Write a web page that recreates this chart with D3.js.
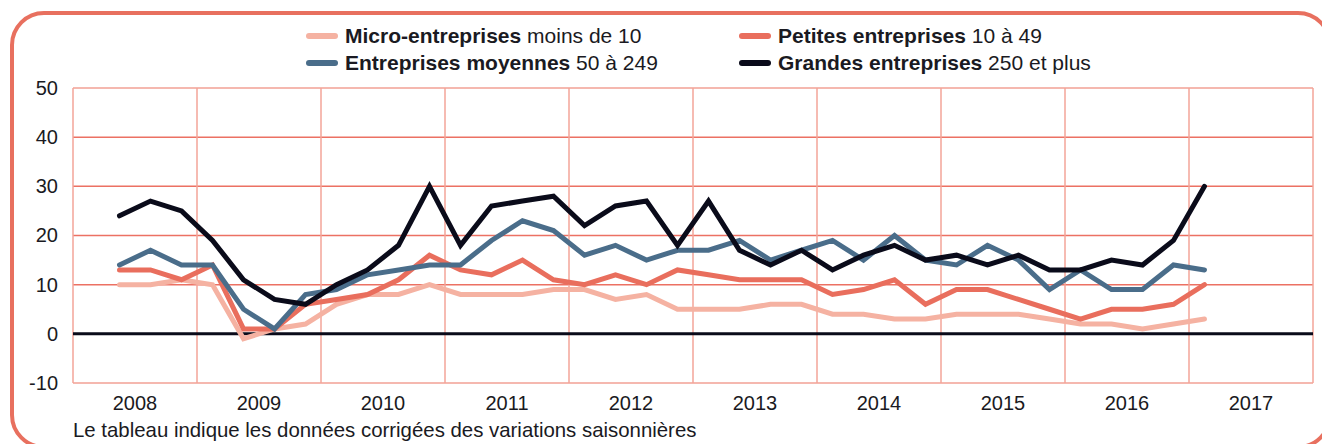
<!DOCTYPE html>
<html>
<head>
<meta charset="utf-8">
<script src="https://cdn.jsdelivr.net/npm/d3@7"></script>
<style>
  body { margin: 0; background: #fff; }
  text { font-family: "Liberation Sans", Arial, sans-serif; fill: #1a1a22; }
</style>
</head>
<body>
<div id="chart"></div>
<script>
'use strict';

// années affichées sous l'axe
var years = ['2008', '2009', '2010', '2011', '2012', '2013', '2014', '2015', '2016', '2017'];
// premier point : 2e trimestre 2008, puis un point par trimestre
var firstYear = 2008, firstQuarter = 2;
var yTicks = [-10, 0, 10, 20, 30, 40, 50];

var micro = [10, 10, 11, 10, -1, 1, 2, 6, 8, 8, 10, 8, 8, 8, 9, 9, 7, 8, 5, 5, 5, 6, 6, 4, 4, 3, 3, 4, 4, 4, 3, 2, 2, 1, 2, 3];
var petites = [13, 13, 11, 14, 1, 1, 6, 7, 8, 11, 16, 13, 12, 15, 11, 10, 12, 10, 13, 12, 11, 11, 11, 8, 9, 11, 6, 9, 9, 7, 5, 3, 5, 5, 6, 10];
var moyennes = [14, 17, 14, 14, 5, 1, 8, 9, 12, 13, 14, 14, 19, 23, 21, 16, 18, 15, 17, 17, 19, 15, 17, 19, 15, 20, 15, 14, 18, 15, 9, 13, 9, 9, 14, 13];
var grandes = [24, 27, 25, 19, 11, 7, 6, 10, 13, 18, 30, 18, 26, 27, 28, 22, 26, 27, 18, 27, 17, 14, 17, 13, 16, 18, 15, 16, 14, 16, 13, 13, 15, 14, 19, 30];

var legendBold = ['Micro-entreprises', 'Petites entreprises', 'Entreprises moyennes', 'Grandes entreprises'];
var legendRest = [' moins de 10', ' 10 à 49', ' 50 à 249', ' 250 et plus'];
var note = 'Le tableau indique les données corrigées des variations saisonnières';

var colors = ['#f5b2a2', '#e96e5d', '#4a6d8a', '#0a0b1a'];
var series = [micro, petites, moyennes, grandes];

var W = 1322, H = 444;
var margin = { top: 88, right: 9, bottom: 61, left: 73 },
    width = W - margin.left - margin.right,
    height = H - margin.top - margin.bottom;

var svg = d3.select('#chart').append('svg')
    .attr('width', W)
    .attr('height', H);

// cadre arrondi
svg.append('rect')
    .attr('x', 12).attr('y', 13)
    .attr('width', 1318).attr('height', 434)
    .attr('rx', 32).attr('ry', 32)
    .style('fill', 'none')
    .style('stroke', '#e8705f')
    .style('stroke-width', '4px');

var g = svg.append('g')
    .attr('transform', 'translate(' + margin.left + ',' + margin.top + ')');

var xBand = d3.scaleBand()
    .domain(years)
    .range([0, width]);

var x = d3.scaleLinear()
    .domain([+years[0], +years[years.length - 1] + 1])
    .range([0, width]);

var y = d3.scaleLinear()
    .domain([-10, 50])
    .range([height, 0]);

// grille horizontale
g.selectAll('.hgrid')
    .data(yTicks.filter(function (d) { return d !== 0; }))
    .enter().append('line')
    .attr('x1', 0).attr('x2', width)
    .attr('y1', function (d) { return y(d); })
    .attr('y2', function (d) { return y(d); })
    .style('stroke', function (d) { return (d === 50 || d === -10) ? '#f2a195' : '#ec7163'; })
    .style('stroke-width', '1.5px');

// grille verticale (limites d'année)
g.selectAll('.vgrid')
    .data(d3.range(years.length + 1))
    .enter().append('line')
    .attr('x1', function (d) { return x(+years[0] + d); })
    .attr('x2', function (d) { return x(+years[0] + d); })
    .attr('y1', 0).attr('y2', height)
    .style('stroke', '#f3a498')
    .style('stroke-width', '1.5px');

// ligne du zéro
g.append('line')
    .attr('x1', 0).attr('x2', width)
    .attr('y1', y(0)).attr('y2', y(0))
    .style('stroke', '#0a0b1a')
    .style('stroke-width', '3px');

var yAxis = d3.axisLeft(y)
    .tickValues(yTicks)
    .tickFormat(function (d) { return String(d); })
    .tickSize(0)
    .tickPadding(15);

g.append('g')
    .call(yAxis)
    .call(function (s) { s.select('.domain').remove(); })
    .selectAll('text')
    .style('font-size', '20px')
    .style('fill', '#1a1a22');

var xAxis = d3.axisBottom(xBand)
    .tickSize(0)
    .tickPadding(13);

g.append('g')
    .attr('transform', 'translate(0,' + height + ')')
    .call(xAxis)
    .call(function (s) { s.select('.domain').remove(); })
    .selectAll('text')
    .style('font-size', '20px')
    .style('fill', '#1a1a22');

var line = d3.line()
    .x(function (d, i) {
        var q = firstQuarter - 1 + i;
        return x(firstYear + q / 4 + 0.125);
    })
    .y(function (d) { return y(d); });

series.forEach(function (s, k) {
    g.append('path')
        .datum(s)
        .style('fill', 'none')
        .style('stroke', colors[k])
        .style('stroke-width', '5px')
        .style('stroke-linecap', 'round')
        .style('stroke-linejoin', 'miter')
        .attr('d', line);
});

// légende
var legX = [307, 740], legY = [36, 63];
legendBold.forEach(function (b, i) {
    var lx = legX[i % 2], ly = legY[Math.floor(i / 2)];
    svg.append('line')
        .attr('x1', lx + 2).attr('x2', lx + 28)
        .attr('y1', ly).attr('y2', ly)
        .style('stroke', colors[i])
        .style('stroke-width', '6px')
        .style('stroke-linecap', 'round');
    var t = svg.append('text')
        .attr('x', lx + 38)
        .attr('y', ly + 7)
        .style('font-size', '21px');
    t.append('tspan').style('font-weight', 'bold').text(b);
    t.append('tspan').text(legendRest[i]);
});

svg.append('text')
    .attr('x', 73)
    .attr('y', 437)
    .style('font-size', '20.4px')
    .text(note);
</script>
</body>
</html>
